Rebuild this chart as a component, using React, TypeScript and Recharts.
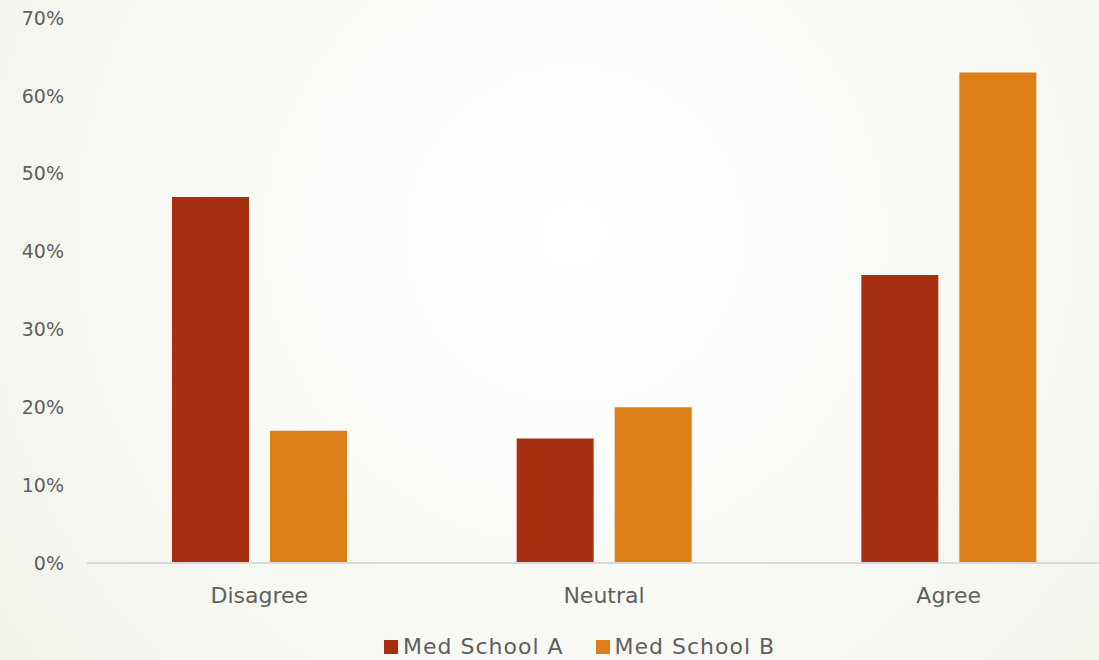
import React from "react";
import { BarChart, Bar, XAxis, YAxis, Legend } from "recharts";

// Survey response categories and share of respondents (%) per school
const categories = ["Disagree", "Neutral", "Agree"];
const schoolA = [47, 16, 37];
const schoolB = [17, 20, 63];
const seriesNames = ["Med School A", "Med School B"];
const seriesColors = ["#a52f10", "#de7e18"];
const yTicks = [0, 10, 20, 30, 40, 50, 60, 70];

const data = categories.map((c, i) => ({
  category: c,
  a: schoolA[i],
  b: schoolB[i],
}));

const FONT = "'DejaVu Sans', sans-serif";
const TEXT = "#5f5f5f";

const LegendContent = () => (
  <div
    style={{
      display: "flex",
      alignItems: "center",
      fontFamily: FONT,
      fontSize: 22,
      letterSpacing: 1,
      color: TEXT,
      whiteSpace: "nowrap",
      lineHeight: "26px",
    }}
  >
    {seriesNames.map((name, i) => (
      <div
        key={name}
        style={{ display: "flex", alignItems: "center", marginRight: i === 0 ? 32 : 0 }}
      >
        <span
          style={{
            display: "inline-block",
            width: 14,
            height: 14,
            background: seriesColors[i],
            marginRight: 5,
          }}
        />
        <span>{name}</span>
      </div>
    ))}
  </div>
);

export default function App() {
  return (
    <div
      style={{
        position: "absolute",
        left: 0,
        top: 0,
        width: 1099,
        height: 660,
        overflow: "hidden",
        background:
          "radial-gradient(circle at 575px 235px, #ffffff 0px, #fcfcfa 220px, #f8f9f4 420px, #f4f5ee 620px, #eff2e6 860px)",
      }}
    >
      <BarChart
        width={1121}
        height={660}
        data={data}
        margin={{ top: 18, right: 0, bottom: 57, left: 0 }}
        barSize={77}
        barGap={21}
        style={{ fontFamily: FONT }}
      >
        <XAxis
          dataKey="category"
          height={40}
          axisLine={{ stroke: "#d9d9d9", strokeWidth: 2 }}
          tickLine={false}
          tickSize={0}
          tickMargin={24}
          tick={{ fill: TEXT, fontSize: 22, fontFamily: FONT }}
        />
        <YAxis
          width={87}
          domain={[0, 70]}
          ticks={yTicks}
          interval={0}
          axisLine={false}
          tickLine={false}
          tickSize={0}
          tickMargin={23}
          tickFormatter={(v: number) => `${v}%`}
          tick={{ fill: TEXT, fontSize: 19, fontFamily: FONT }}
        />
        <Legend
          layout="horizontal"
          verticalAlign="middle"
          align="center"
          content={<LegendContent />}
          wrapperStyle={{ top: 634, left: 384, width: "auto", height: 26 }}
        />
        <Bar dataKey="a" name={seriesNames[0]} fill={seriesColors[0]} isAnimationActive={false} />
        <Bar dataKey="b" name={seriesNames[1]} fill={seriesColors[1]} isAnimationActive={false} />
      </BarChart>
    </div>
  );
}
